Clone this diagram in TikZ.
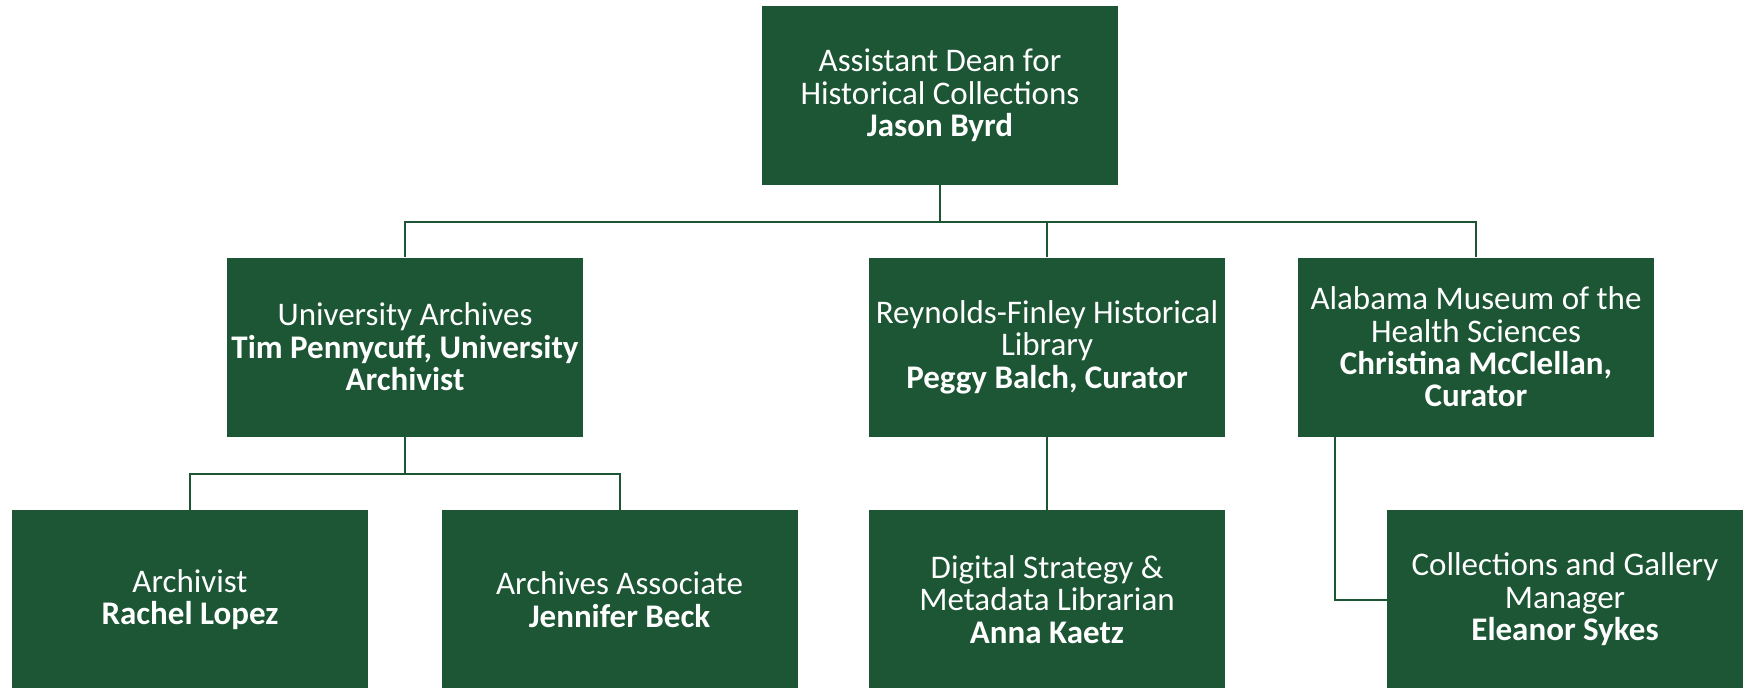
\documentclass[tikz,border=0pt]{standalone}
\usepackage{fontspec}
\setmainfont{Carlito}
\usetikzlibrary{positioning,calc}

\definecolor{uagreen}{RGB}{28,86,52}

\tikzset{
  unitbox/.style={fill=uagreen, text=white, minimum width=178pt, minimum height=89.5pt,
    inner sep=2pt, align=center, font=\fontsize{16.5}{16.2}\selectfont},
  link/.style={draw=uagreen, line width=1pt}
}

\begin{document}
\begin{tikzpicture}[x=0.5pt,y=-0.5pt]
\useasboundingbox (0,0) rectangle (1750,687);

% top level
\node[unitbox] (dean) at (940,95.5) {Assistant Dean for\\Historical Collections\\\textbf{Jason Byrd}};

% second row
\node[unitbox] (archives) at (405,347) {University Archives\\\textbf{Tim Pennycuff, University}\\\textbf{Archivist}};
\node[unitbox] (rfhl) at (1047,347) {Reynolds-Finley Historical\\Library\\\textbf{Peggy Balch, Curator}};
\node[unitbox] (amhs) at (1476,347) {Alabama Museum of the\\Health Sciences\\\textbf{Christina McClellan,}\\\textbf{Curator}};

% third row
\node[unitbox] (archivist) at (190,599.5) {Archivist\\\textbf{Rachel Lopez}};
\node[unitbox] (associate) at (619.5,599.5) {Archives Associate\\\textbf{Jennifer Beck}};
\node[unitbox] (digital) at (1047,599.5) {Digital Strategy \&\\Metadata Librarian\\\textbf{Anna Kaetz}};
\node[unitbox] (gallery) at (1565,599.5) {Collections and Gallery\\Manager\\\textbf{Eleanor Sykes}};

% connectors
\draw[link] (dean.south) -- ++(0,37) -| (archives.north);
\draw[link] (dean.south) ++(0,37) -| (rfhl.north);
\draw[link] (dean.south) ++(0,37) -| (amhs.north);
\draw[link] (archives.south) -- ++(0,37) -| (archivist.north);
\draw[link] (archives.south) ++(0,37) -| (associate.north);
\draw[link] (rfhl) -- (digital);
\draw[link] ([xshift=18.5pt]amhs.south west) |- (gallery.west);
\end{tikzpicture}
\end{document}
